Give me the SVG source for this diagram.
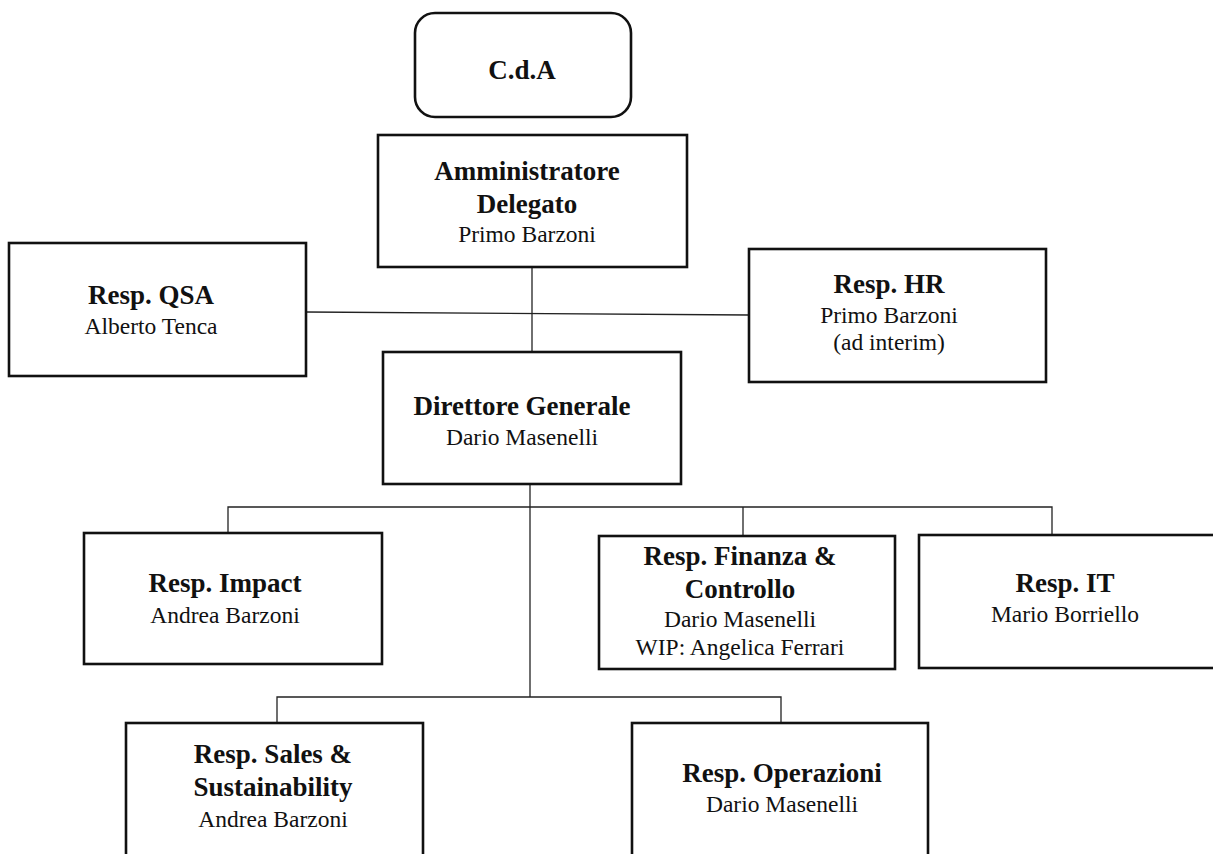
<svg xmlns="http://www.w3.org/2000/svg" width="1213" height="854" viewBox="0 0 1213 854">
  <style>
    .box { fill: #ffffff; stroke: #111111; stroke-width: 2.6; }
    .link { fill: none; stroke: #222222; stroke-width: 1.3; }
    text { font-family: "Liberation Serif", "Times New Roman", serif; fill: #111111; text-anchor: middle; }
    .title { font-size: 27px; font-weight: bold; }
    .name { font-size: 23.5px; }
  </style>
  <rect width="1213" height="854" fill="#ffffff"/>

  <!-- reporting lines -->
  <g id="connectors">
    <line class="link" x1="532" y1="267" x2="532" y2="352"/>
    <line class="link" x1="306" y1="312" x2="749" y2="315"/>
    <line class="link" x1="530" y1="484" x2="530" y2="697"/>
    <polyline class="link" points="228,533 228,507 1052,507 1052,535"/>
    <line class="link" x1="743" y1="507" x2="743" y2="536"/>
    <polyline class="link" points="277,723 277,697 781,697 781,723"/>
  </g>

  <g id="cda">
    <rect class="box" x="415" y="13" width="216" height="104" rx="20" ry="20"/>
    <text class="title" x="522" y="79">C.d.A</text>
  </g>

  <g id="amministratore-delegato">
    <rect class="box" x="378" y="135" width="309" height="132"/>
    <text class="title" x="527" y="180">Amministratore</text>
    <text class="title" x="527" y="213">Delegato</text>
    <text class="name" x="527" y="242">Primo Barzoni</text>
  </g>

  <g id="resp-qsa">
    <rect class="box" x="9" y="243" width="297" height="133"/>
    <text class="title" x="151" y="304">Resp. QSA</text>
    <text class="name" x="151" y="334">Alberto Tenca</text>
  </g>

  <g id="resp-hr">
    <rect class="box" x="749" y="249" width="297" height="133"/>
    <text class="title" x="889" y="293">Resp. HR</text>
    <text class="name" x="889" y="323">Primo Barzoni</text>
    <text class="name" x="889" y="350">(ad interim)</text>
  </g>

  <g id="direttore-generale">
    <rect class="box" x="383" y="352" width="298" height="132"/>
    <text class="title" x="522" y="415">Direttore Generale</text>
    <text class="name" x="522" y="445">Dario Masenelli</text>
  </g>

  <g id="resp-impact">
    <rect class="box" x="84" y="533" width="298" height="131"/>
    <text class="title" x="225" y="592">Resp. Impact</text>
    <text class="name" x="225" y="623">Andrea Barzoni</text>
  </g>

  <g id="resp-finanza">
    <rect class="box" x="599" y="536" width="296" height="133"/>
    <text class="title" x="740" y="565">Resp. Finanza &amp;</text>
    <text class="title" x="740" y="598">Controllo</text>
    <text class="name" x="740" y="627">Dario Masenelli</text>
    <text class="name" x="740" y="655">WIP: Angelica Ferrari</text>
  </g>

  <g id="resp-it">
    <rect class="box" x="919" y="535" width="306" height="133"/>
    <text class="title" x="1065" y="592">Resp. IT</text>
    <text class="name" x="1065" y="622">Mario Borriello</text>
  </g>

  <g id="resp-sales">
    <rect class="box" x="126" y="723" width="297" height="140"/>
    <text class="title" x="273" y="763">Resp. Sales &amp;</text>
    <text class="title" x="273" y="796">Sustainability</text>
    <text class="name" x="273" y="827">Andrea Barzoni</text>
  </g>

  <g id="resp-operazioni">
    <rect class="box" x="632" y="723" width="296" height="140"/>
    <text class="title" x="782" y="782">Resp. Operazioni</text>
    <text class="name" x="782" y="812">Dario Masenelli</text>
  </g>
</svg>
